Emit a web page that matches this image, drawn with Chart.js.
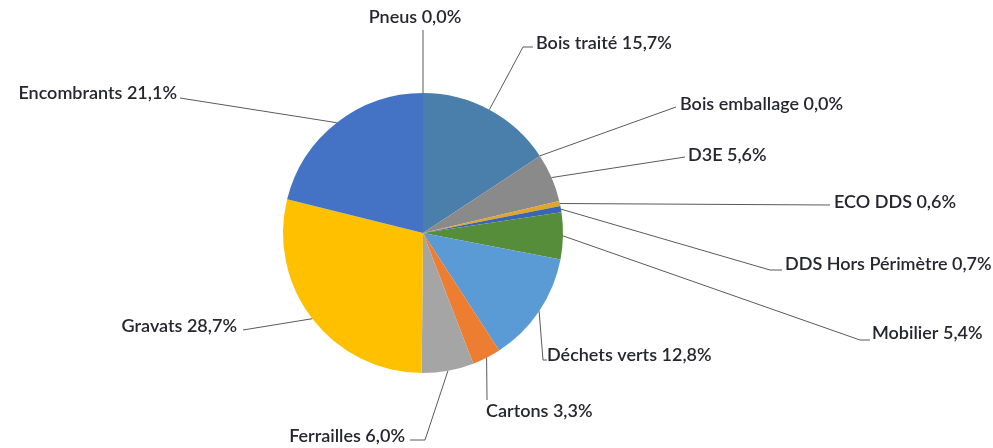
<!DOCTYPE html>
<html>
<head>
<meta charset="utf-8">
<script src="https://cdn.jsdelivr.net/npm/chart.js@4"></script>
<style>
  html, body { margin: 0; padding: 0; background: #ffffff; }
  #wrap { width: 993px; height: 448px; position: relative; }
</style>
</head>
<body>
<div id="wrap"><canvas id="c" width="993" height="448"></canvas></div>
<script>
// ---- data ----
const categories = ["Pneus", "Bois traité", "Bois emballage", "D3E", "ECO DDS", "DDS Hors Périmètre",
                    "Mobilier", "Déchets verts", "Cartons", "Ferrailles", "Gravats", "Encombrants"];
const shares = [0.0, 15.7, 0.0, 5.6, 0.6, 0.7, 5.4, 12.8, 3.3, 6.0, 28.7, 21.1];
const sliceColors = ["#5b9bd5", "#4a7eab", "#9e480e", "#8a8a8a", "#e0a62a", "#3c64b4",
                     "#568d3b", "#5b9bd5", "#ed7d31", "#a5a5a5", "#ffc000", "#4472c4"];

// label layout (relative to pie centre, px): text anchor, alignment, line bend points
const labelLayout = [
  { tx: -8,  ty: -216, align: "center", pts: [[0, -203]] },
  { tx: 113, ty: -190, align: "left",  pts: [[100, -186], [110, -186]] },
  { tx: 257, ty: -129, align: "left",  pts: [[253, -126]] },
  { tx: 265, ty: -78,  align: "left",  pts: [[262, -76]] },
  { tx: 411, ty: -31,  align: "left",  pts: [[407, -28]] },
  { tx: 362, ty: 31,   align: "left",  pts: [[347, 37], [359, 37]] },
  { tx: 449, ty: 100,  align: "left",  pts: [[437, 107], [447, 107]] },
  { tx: 124, ty: 122,  align: "left",  pts: [[120, 127], [124, 127]] },
  { tx: 63,  ty: 178,  align: "left",  pts: [[64, 167]] },
  { tx: -18, ty: 203,  align: "right", pts: [[2, 207], [-13, 207]] },
  { tx: -186, ty: 93,  align: "right", pts: [[-180, 97]] },
  { tx: -246, ty: -140, align: "right", pts: [[-243, -135]] }
];

function fmt(v) { return v.toFixed(1).replace(".", ",") + "%"; }

const leaderPlugin = {
  id: "leaders",
  afterDatasetsDraw(chart) {
    const ctx = chart.ctx;
    const meta = chart.getDatasetMeta(0);
    ctx.save();
    ctx.font = "600 18px Lato";
    ctx.textBaseline = "middle";
    meta.data.forEach((arc, i) => {
      const p = arc.getProps(["x", "y", "startAngle", "endAngle", "outerRadius"], true);
      const mid = (p.startAngle + p.endAngle) / 2;
      const sx = p.x + Math.cos(mid) * p.outerRadius;
      const sy = p.y + Math.sin(mid) * p.outerRadius;
      const L = labelLayout[i];
      ctx.beginPath();
      ctx.strokeStyle = "#5a5a5a";
      ctx.lineWidth = 1;
      ctx.moveTo(sx, sy);
      L.pts.forEach(q => ctx.lineTo(p.x + q[0], p.y + q[1]));
      ctx.stroke();
      ctx.fillStyle = "#262630";
      ctx.textAlign = L.align;
      ctx.fillText(categories[i] + " " + fmt(shares[i]), p.x + L.tx, p.y + L.ty);
    });
    ctx.restore();
  }
};

new Chart(document.getElementById("c"), {
  type: "pie",
  data: {
    labels: categories,
    datasets: [{
      data: shares,
      backgroundColor: sliceColors,
      borderWidth: 0
    }]
  },
  options: {
    responsive: false,
    animation: false,
    layout: { padding: { top: 93, bottom: 75, left: 0, right: 147 } },
    plugins: { legend: { display: false }, tooltip: { enabled: false } }
  },
  plugins: [leaderPlugin]
});
</script>
</body>
</html>
